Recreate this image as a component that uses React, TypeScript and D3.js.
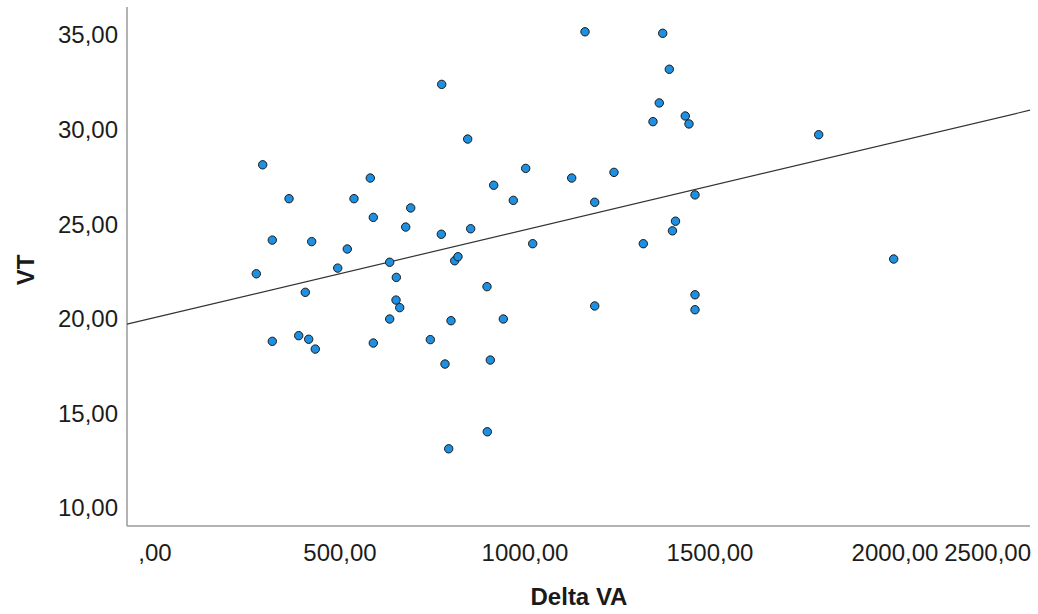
import React from "react";
import * as d3 from "d3";

const deltaVA: number[] = [
  273.8, 291.1, 317.0, 317.0, 362.2, 388.4, 406.2, 415.4, 423.5, 433.2,
  493.8, 519.7, 537.8, 581.9, 590.0, 590.0, 634.3, 634.3, 652.2, 651.4,
  661.4, 677.6, 691.1, 744.1, 774.9, 773.8, 783.8, 793.8, 800.0, 810.0,
  818.9, 845.1, 853.2, 897.3, 898.1, 906.2, 915.4, 941.4, 968.4, 1001.9,
  1020.8, 1126.2, 1162.2, 1188.4, 1188.4, 1240.5, 1319.7, 1345.9, 1362.9, 1372.2,
  1390.0, 1398.6, 1406.8, 1433.2, 1443.2, 1459.5, 1459.5, 1459.5, 1793.8, 1996.5,
];
const vt: number[] = [
  22.38, 28.14, 24.16, 18.81, 26.35, 19.11, 21.40, 18.92, 24.08, 18.40,
  22.68, 23.69, 26.35, 27.44, 18.72, 25.36, 22.99, 19.99, 22.19, 20.99,
  20.59, 24.85, 25.86, 18.90, 32.39, 24.47, 17.61, 13.13, 19.90, 23.07,
  23.28, 29.50, 24.76, 21.70, 14.03, 17.82, 27.06, 19.99, 26.26, 27.95,
  23.97, 27.44, 35.17, 26.16, 20.68, 27.74, 23.97, 30.42, 31.41, 35.09,
  33.19, 24.65, 25.16, 30.72, 30.30, 26.55, 21.27, 20.48, 29.73, 23.16,
];
const xTicks: number[] = [0, 500, 1000, 1500, 2000, 2500];
const yTicks: number[] = [10, 15, 20, 25, 30, 35];
const xDomain: [number, number] = [-75.7, 2364.9];
const yDomain: [number, number] = [9.05, 36.48];
const fitIntercept = 20.07;
const fitSlope = 0.004633;
const xTitle = "Delta VA";
const yTitle = "VT";

const fmt = (v: number) => {
  const s = v.toFixed(2).replace(".", ",");
  return s.startsWith("0,") ? s.slice(1) : s;
};

export default function App() {
  const W = 1038, H = 614;
  const left = 127, right = 1030, top = 7, bottom = 526;
  const x = d3.scaleLinear().domain(xDomain).range([left, right]);
  const y = d3.scaleLinear().domain(yDomain).range([bottom, top]);
  const font = "'Liberation Sans', Arial, sans-serif";
  const line = d3.line<number>().x((d) => x(d)).y((d) => y(fitIntercept + fitSlope * d));
  return (
    <svg width={W} height={H} style={{ position: "absolute", left: 0, top: 0, background: "#fff" }}>
      <rect x={0} y={0} width={W} height={H} fill="#fff" />
      <line x1={left} y1={top} x2={left} y2={bottom} stroke="#9a9a9a" strokeWidth={1.5} />
      <line x1={left} y1={bottom} x2={right} y2={bottom} stroke="#9a9a9a" strokeWidth={1.5} />
      {yTicks.map((t) => (
        <text key={t} x={118} y={y(t)} dy="0.35em" textAnchor="end" fontFamily={font} fontSize={24} fill="#1c1c1c">
          {fmt(t)}
        </text>
      ))}
      {xTicks.map((t) => {
        const px = x(t);
        const last = px > right;
        return (
          <text key={t} x={last ? right + 1 : px} y={553} dy="0.35em" textAnchor={last ? "end" : "middle"} fontFamily={font} fontSize={24} fill="#1c1c1c">
            {fmt(t)}
          </text>
        );
      })}
      <path d={line(xDomain) || ""} fill="none" stroke="#333" strokeWidth={1.2} />
      {deltaVA.map((d, i) => (
        <circle key={i} cx={x(d)} cy={y(vt[i])} r={4.2} fill="#1e8fe1" stroke="#1a1a1a" strokeWidth={1} />
      ))}
      <text x={579} y={597} dy="0.35em" textAnchor="middle" fontFamily={font} fontSize={24} fontWeight="bold" fill="#1a1a1a">
        {xTitle}
      </text>
      <text transform={`translate(26,270) rotate(-90)`} dy="0.35em" textAnchor="middle" fontFamily={font} fontSize={24} fontWeight="bold" fill="#1a1a1a">
        {yTitle}
      </text>
    </svg>
  );
}
